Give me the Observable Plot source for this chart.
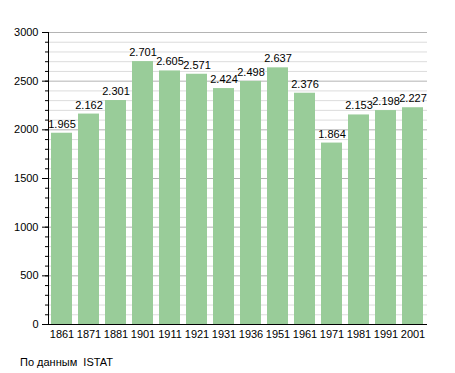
<!DOCTYPE html>
<html><head><meta charset="utf-8">
<script src="https://cdn.jsdelivr.net/npm/d3@7"></script>
<script src="https://cdn.jsdelivr.net/npm/@observablehq/plot@0.6"></script>
<style>
body{margin:0;background:#fff;font-family:"Liberation Sans",Arial,sans-serif;}
#cap{font-size:11px;margin:10px 0 0 20px;line-height:14px;color:#000;}
</style></head><body>
<div id="chart"></div>
<div id="cap">По данным&nbsp; ISTAT</div>
<script>
const years = ["1861","1871","1881","1901","1911","1921","1931","1936","1951","1961","1971","1981","1991","2001"];
const population = [1965,2162,2301,2701,2605,2571,2424,2498,2637,2376,1864,2153,2198,2227];
const minorTicks = d3.range(0, 3001, 100);
const majorTicks = d3.range(0, 3001, 500);

const data = years.map((y, i) => ({year: y, value: population[i]}));
const fmt = v => d3.format(",")(v).replace(/,/g, ".");

const plot = Plot.plot({
  width: 455, height: 345,
  marginLeft: 48, marginRight: 28, marginTop: 32, marginBottom: 21,
  style: {fontFamily: '"Liberation Sans", Arial, sans-serif', fontSize: "11px", color: "#000", background: "#fff"},
  x: {domain: years, paddingInner: 0.22, paddingOuter: 0.05, label: null},
  y: {domain: [0, 3000], label: null},
  marks: [
    Plot.ruleY(minorTicks.filter(t => t % 500 !== 0), {stroke: "#dcdcdc", strokeWidth: 1}),
    Plot.ruleY(majorTicks.filter(t => t > 0), {stroke: "#b4b4b4", strokeWidth: 1}),
    Plot.axisY({ticks: minorTicks, tickSize: 3, tickFormat: () => ""}),
    Plot.axisY({ticks: majorTicks, tickSize: 6, tickPadding: 4, tickFormat: d => String(d)}),
    Plot.barY(data, {x: "year", y: "value", fill: "#99cc99"}),
    Plot.text(data, {x: "year", y: "value", text: d => fmt(d.value), dy: -9, fill: "#000", fontSize: 11}),
    Plot.axisX({tickSize: 0, tickPadding: 6}),
    Plot.ruleY([0], {stroke: "#000"}),
    Plot.frame({anchor: "left", stroke: "#000"})
  ]
});
document.getElementById("chart").appendChild(plot);
</script>
</body></html>
